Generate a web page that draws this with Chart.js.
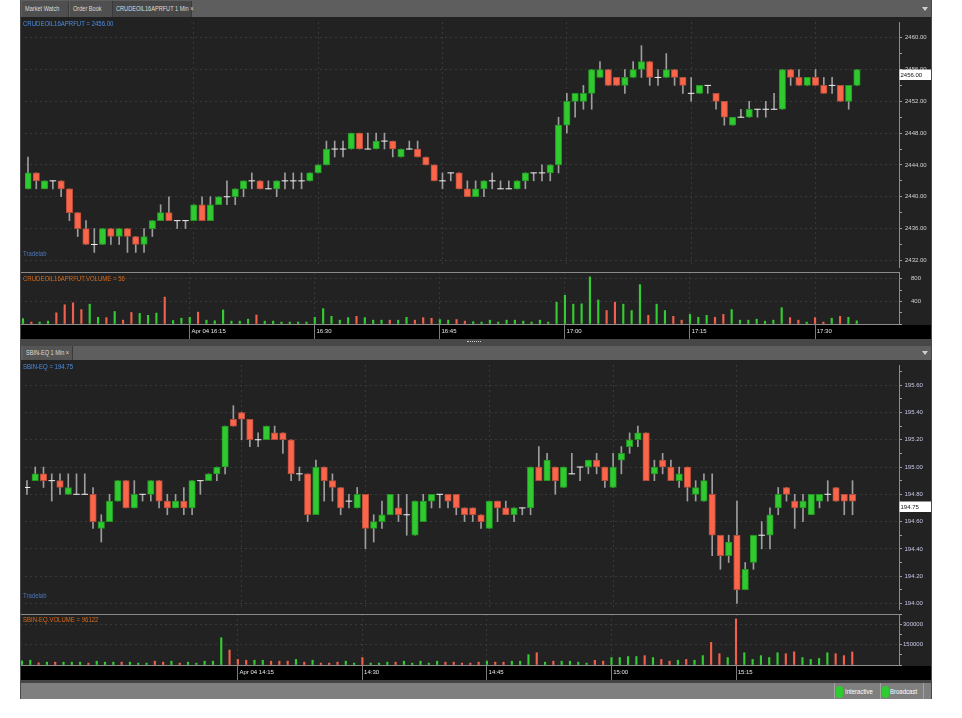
<!DOCTYPE html>
<html>
<head>
<meta charset="utf-8">
<script src="https://cdn.jsdelivr.net/npm/chart.js@4.4.1/dist/chart.umd.min.js"></script>
<style>
  body { margin:0; background:#fff; width:962px; height:718px; position:relative; overflow:hidden;
         font-family:"Liberation Sans",Arial,sans-serif; }
  .box { position:absolute; }
  .txt { position:absolute; font-size:7px; line-height:8px; white-space:nowrap; transform:scaleX(0.86); transform-origin:0 0; }
  .tab { position:absolute; top:1px; height:16px; line-height:16px; color:#dcdcdc;
         background:#4f4f4f; border-right:1px solid #3a3a3a; box-sizing:border-box; }
  .tab span { position:absolute; left:3px; top:0; font-size:7px; white-space:nowrap; transform:scaleX(0.8); transform-origin:0 0; }
  canvas { position:absolute; }
  .arrow { position:absolute; width:0; height:0; border-left:3px solid transparent; border-right:3px solid transparent; border-top:4px solid #cfcfcf; }
  .led { position:absolute; top:686px; width:7px; height:12px; border-radius:3px; background:#2ecc2e; }
</style>
</head>
<body>
<!-- frame -->
<div class="box" style="left:20px;top:0;width:912px;height:17px;background:#5e5e5e"></div>
<div class="tab" style="left:22px;width:47px"><span>Market Watch</span></div>
<div class="tab" style="left:70px;width:43px"><span>Order Book</span></div>
<div class="tab" style="left:113px;width:79px;background:#474747"><span>CRUDEOIL16APRFUT 1 Min ×</span></div>
<div class="arrow" style="left:922px;top:7px"></div>

<div class="box" style="left:20px;top:17px;width:912px;height:308px;background:#222"></div>
<div class="box" style="left:20px;top:325px;width:912px;height:14px;background:#000"></div>
<div class="box" style="left:20px;top:339px;width:912px;height:7px;background:#474747"></div>
<div class="box" style="left:467px;top:341px;width:14px;height:0;border-top:1px dotted #cfcfcf"></div>

<div class="box" style="left:20px;top:346px;width:912px;height:14px;background:#5e5e5e"></div>
<div class="tab" style="left:23px;top:346px;height:14px;line-height:14px;width:50px;background:#555"><span>SBIN-EQ 1 Min ×</span></div>
<div class="arrow" style="left:922px;top:351px"></div>

<div class="box" style="left:20px;top:360px;width:912px;height:306px;background:#222"></div>
<div class="box" style="left:20px;top:666px;width:912px;height:14px;background:#000"></div>
<div class="box" style="left:20px;top:680px;width:912px;height:3px;background:#444"></div>
<div class="box" style="left:20px;top:683px;width:912px;height:16px;background:#7f7f7f"></div>
<div class="box" style="left:834px;top:683px;width:1px;height:16px;background:#a5a5a5"></div>
<div class="box" style="left:880px;top:683px;width:1px;height:16px;background:#a5a5a5"></div>
<div class="box" style="left:923px;top:683px;width:1px;height:16px;background:#a5a5a5"></div>
<div class="led" style="left:836px"></div>
<div class="txt" style="left:845px;top:688px;color:#fff">Interactive</div>
<div class="led" style="left:882px"></div>
<div class="txt" style="left:890px;top:688px;color:#fff">Broadcast</div>

<canvas id="topPrice" width="912" height="255" style="left:20px;top:17px"></canvas>
<canvas id="topVol" width="912" height="68" style="left:20px;top:272px"></canvas>
<canvas id="botPrice" width="912" height="254" style="left:20px;top:360px"></canvas>
<canvas id="botVol" width="912" height="67" style="left:20px;top:614px"></canvas>

<div class="box" style="left:20px;top:272px;width:879px;height:1px;background:#8a8a8a"></div>
<div class="box" style="left:20px;top:614px;width:879px;height:1px;background:#8a8a8a"></div>
<div class="box" style="left:20px;top:0;width:1px;height:699px;background:#4a4a4a"></div>
<div class="box" style="left:931px;top:0;width:1px;height:699px;background:#4a4a4a"></div>

<div class="txt" id="topLegend" style="left:23px;top:20px;color:#4c8de2"></div>
<div class="txt" style="left:23px;top:250px;color:#4d76b8">Tradelab</div>
<div class="txt" id="topVolLegend" style="left:23px;top:275px;color:#d86b1c"></div>
<div class="txt" id="botLegend" style="left:23px;top:363px;color:#4c8de2"></div>
<div class="txt" style="left:23px;top:592px;color:#4d76b8">Tradelab</div>
<div class="txt" id="botVolLegend" style="left:23px;top:616px;color:#d86b1c"></div>

<script>
// ---- data: CRUDEOIL16APRFUT, 1 min ----
const topSymbol = 'CRUDEOIL16APRFUT';
const topFirstBar = '15:55';
const topTimeLabels = ['Apr 04 16:15', '16:30', '16:45', '17:00', '17:15', '17:30'];
const topOpen = [2441,2443,2441,2442,2442,2441,2438,2436,2434,2434, 2436,2435,2436,2435,2434,2436,2437,2438,2437,2437,
  2437,2439,2437,2439,2440,2440,2441,2442,2442,2441, 2441,2442,2442,2442,2442,2443,2444,2446,2446,2446,
  2448,2446,2446,2447,2447,2445,2446,2446,2445,2444, 2442,2443,2443,2441,2440,2441,2442,2441,2441,2441,
  2442,2443,2443,2443,2444,2449,2452,2452,2453,2455, 2456,2455,2454,2455,2456,2457,2455,2455,2456,2455,
  2453,2453,2454,2453,2452,2449,2450,2450,2451,2451, 2451,2451,2456,2455,2454,2455,2454,2454,2454,2452, 2454];
const topHigh = [2445,2443,2442,2442,2442,2441,2438,2437,2436,2436, 2436,2436,2436,2435,2436,2437,2439,2440,2437,2437,
  2439,2440,2440,2440,2442,2441,2442,2443,2442,2442, 2442,2443,2443,2443,2443,2444,2447,2447,2447,2448,
  2448,2448,2448,2448,2447,2446,2447,2447,2445,2444, 2443,2443,2443,2442,2442,2442,2443,2442,2442,2442,
  2443,2443,2444,2444,2450,2453,2453,2454,2456,2457, 2456,2455,2456,2457,2459,2457,2456,2458,2456,2455,
  2455,2454,2454,2453,2452,2450,2451,2452,2451,2452, 2453,2456,2456,2456,2455,2456,2455,2455,2454,2454, 2456];
const topLow = [2441,2441,2441,2441,2440,2437,2435,2434,2433,2434, 2434,2434,2433,2433,2433,2435,2437,2437,2436,2436,
  2437,2437,2437,2439,2439,2439,2440,2441,2441,2441, 2440,2441,2441,2441,2442,2443,2444,2445,2445,2446,
  2446,2446,2446,2446,2445,2445,2446,2445,2444,2442, 2441,2442,2441,2440,2440,2440,2441,2441,2441,2441,
  2441,2442,2442,2442,2443,2448,2450,2451,2451,2455, 2454,2454,2453,2455,2455,2454,2454,2455,2454,2453,
  2452,2453,2453,2451,2449,2449,2450,2450,2450,2450, 2451,2451,2454,2454,2454,2454,2453,2453,2452,2451, 2454];
const topClose = [2443,2442,2442,2442,2441,2438,2436,2434,2434,2436, 2435,2436,2435,2434,2435,2437,2438,2437,2437,2437,
  2439,2437,2439,2440,2440,2441,2442,2442,2441,2441, 2442,2442,2442,2442,2443,2444,2446,2446,2446,2448,
  2446,2446,2447,2447,2446,2446,2446,2445,2444,2442, 2442,2443,2441,2440,2441,2442,2442,2441,2441,2442,
  2443,2443,2443,2444,2449,2452,2453,2453,2456,2456, 2454,2454,2455,2456,2457,2455,2455,2456,2455,2454,
  2453,2454,2454,2452,2450,2450,2450,2451,2451,2451, 2451,2456,2455,2454,2455,2454,2453,2454,2452,2454, 2456];
const topVolume = [95,34,34,51,198,340,374,255,351,119, 113,221,68,204,187,153,193,476,62,102,
  119,210,68,57,249,51,51,85,159,51, 51,34,34,34,34,119,272,136,68,113,
  136,113,68,68,68,68,119,68,113,102, 79,68,79,51,40,34,68,34,68,68,
  51,34,68,34,385,510,351,357,833,425, 238,385,351,238,697,153,351,238,136,68,
  170,119,153,119,170,255,68,68,85,51, 68,289,113,68,34,113,34,102,136,119, 56];

// ---- data: SBIN-EQ, 1 min ----
const botSymbol = 'SBIN-EQ';
const botFirstBar = '13:49';
const botTimeLabels = ['Apr 04 14:15', '14:30', '14:45', '15:00', '15:15'];
const botOpen = [194.85,194.90,194.95,194.90,194.90,194.80,194.80,194.80,194.80,194.55, 194.60,194.75,194.90,194.70,194.80,194.80,194.90,194.75,194.70,194.75,
  194.70,194.90,194.90,194.95,195.00,195.35,195.40,195.35,195.20,195.20, 195.25,195.25,195.20,194.95,194.95,194.65,195.00,194.90,194.85,194.75,
  194.70,194.80,194.55,194.60,194.65,194.70,194.65,194.50,194.60,194.75, 194.80,194.80,194.80,194.70,194.70,194.65,194.55,194.75,194.70,194.65,
  194.70,194.70,195.00,194.90,195.00,194.85,194.95,195.00,195.00,195.05, 195.00,194.85,195.05,195.15,195.20,195.25,194.95,195.05,195.00,194.90,
  195.00,194.80,194.75,194.80,194.50,194.35,194.50,194.10,194.30,194.50, 194.50,194.70,194.85,194.75,194.70,194.65,194.75,194.80,194.85,194.80, 194.80];
const botHigh = [194.90,195.00,195.00,194.95,194.95,194.95,194.95,194.95,194.85,194.65, 194.80,194.90,194.90,194.90,194.80,194.90,194.90,194.80,194.80,194.85,
  194.90,194.90,194.95,195.00,195.30,195.45,195.40,195.35,195.25,195.30, 195.30,195.25,195.20,195.00,194.95,195.05,195.00,194.95,194.85,194.80,
  194.85,194.80,194.65,194.75,194.80,194.80,194.80,194.75,194.80,194.80, 194.80,194.80,194.80,194.70,194.70,194.65,194.75,194.75,194.75,194.70,
  194.70,195.00,195.15,195.10,195.00,195.00,195.10,195.00,195.05,195.10, 195.00,195.10,195.15,195.25,195.30,195.25,195.05,195.10,195.05,195.00,
  195.00,194.90,194.95,194.95,194.50,194.50,194.75,194.30,194.50,194.60, 194.70,194.85,194.85,194.80,194.80,194.80,194.80,194.90,194.85,194.80, 194.90];
const botLow = [194.80,194.90,194.85,194.75,194.80,194.80,194.80,194.80,194.55,194.45, 194.60,194.75,194.70,194.70,194.75,194.75,194.70,194.65,194.70,194.65,
  194.65,194.80,194.90,194.90,194.95,195.30,195.20,195.15,195.15,195.20, 195.20,195.10,194.90,194.90,194.60,194.65,194.75,194.75,194.65,194.70,
  194.70,194.40,194.45,194.55,194.65,194.60,194.50,194.50,194.60,194.70, 194.70,194.70,194.65,194.60,194.60,194.55,194.55,194.60,194.65,194.60,
  194.65,194.65,194.90,194.90,194.80,194.85,194.95,194.90,194.95,194.95, 194.85,194.85,194.95,195.10,195.15,194.90,194.90,194.95,194.90,194.85,
  194.75,194.75,194.75,194.35,194.25,194.30,194.00,194.10,194.25,194.40, 194.40,194.65,194.75,194.55,194.60,194.65,194.70,194.75,194.75,194.65, 194.65];
const botClose = [194.85,194.95,194.90,194.90,194.85,194.85,194.80,194.80,194.60,194.60, 194.75,194.90,194.70,194.80,194.80,194.90,194.75,194.70,194.75,194.70,
  194.90,194.90,194.95,195.00,195.30,195.30,195.35,195.20,195.20,195.30, 195.20,195.20,194.95,194.95,194.65,195.00,194.90,194.85,194.70,194.75,
  194.80,194.55,194.60,194.65,194.80,194.65,194.65,194.75,194.75,194.80, 194.80,194.75,194.70,194.65,194.65,194.60,194.75,194.70,194.65,194.70,
  194.70,195.00,194.90,195.05,194.90,195.00,194.95,195.00,195.05,195.00, 194.90,195.00,195.10,195.20,195.25,194.90,195.00,195.00,194.90,194.95,
  194.85,194.85,194.90,194.50,194.35,194.45,194.10,194.25,194.50,194.50, 194.65,194.80,194.80,194.70,194.75,194.80,194.80,194.80,194.75,194.75, 194.75];
const botVolume = [30000,35000,16000,21000,21000,21000,21000,21000,14000,28000, 21000,21000,21000,21000,14000,14000,28000,21000,28000,14000,
  21000,14000,28000,28000,200000,110000,41000,35000,35000,35000, 28000,28000,28000,41000,21000,35000,14000,14000,21000,28000,
  14000,55000,14000,14000,21000,21000,28000,14000,28000,14000, 28000,21000,21000,14000,14000,21000,28000,21000,21000,28000,
  28000,76000,90000,21000,28000,28000,28000,21000,14000,35000, 28000,55000,55000,62000,62000,69000,55000,41000,28000,35000,
  41000,35000,69000,166000,83000,55000,339000,90000,41000,69000, 55000,90000,83000,97000,55000,41000,48000,90000,83000,69000, 96122];

// ---- styling ----
const FONT = '"Liberation Sans", Arial, sans-serif';
const UP = '#30ca30', UP_EDGE = '#229522', DOWN = '#fb664b', DOWN_EDGE = '#b44c3a';
const WICK = '#9d9d9d', DOJI = '#f2f2f2', GRID = '#393939', AXIS = '#8c8c8c';

Chart.defaults.font.family = FONT;
Chart.defaults.font.size = 6;

function barIndex(label, start) {
  const [h, m] = label.slice(-5).split(':').map(Number);
  const [sh, sm] = start.split(':').map(Number);
  return (h * 60 + m) - (sh * 60 + sm);
}

function candleSets(o, h, l, c) {
  const ids = o.map((_, i) => i);
  const body = ids.filter(i => o[i] !== c[i]);
  const doji = ids.filter(i => o[i] === c[i]);
  return [
    { type: 'bar', order: 3, grouped: false, barThickness: 1, backgroundColor: WICK,
      data: ids.map(i => ({ x: i, y: [l[i], h[i]] })) },
    { type: 'bar', order: 2, grouped: false, barThickness: 6.5, borderWidth: 1, borderSkipped: false,
      backgroundColor: body.map(i => c[i] > o[i] ? UP : DOWN),
      borderColor: body.map(i => c[i] > o[i] ? UP_EDGE : DOWN_EDGE),
      data: body.map(i => ({ x: i, y: [o[i], c[i]] })) },
    { type: 'line', order: 1, showLine: false, pointStyle: 'line', pointRadius: 3.3,
      pointBorderColor: DOJI, pointBorderWidth: 1, borderColor: DOJI,
      data: doji.map(i => ({ x: i, y: o[i] })) }
  ];
}

const lastPriceTag = {
  id: 'lastPriceTag',
  afterDraw(chart, args, opts) {
    const ctx = chart.ctx;
    const y = Math.round(chart.scales.y.getPixelForValue(opts.value)) + 0.5;
    const x0 = chart.chartArea.right;
    ctx.save();
    ctx.fillStyle = '#fff';
    ctx.fillRect(x0 + 0.5, y, chart.width - x0 - 1.5, 10.5);
    ctx.fillStyle = '#111';
    ctx.font = '6px ' + FONT;
    ctx.textBaseline = 'middle';
    ctx.fillText(opts.text, x0 + 1.5, y + 5.5);
    ctx.restore();
  }
};

function noPad(s) { s.paddingTop = 0; s.paddingBottom = 0; s.paddingLeft = 0; s.paddingRight = 0; }

function xAxis(xr, tickIdx, labels) {
  const ax = {
    type: 'linear', min: xr[0], max: xr[1], offset: false,
    afterBuildTicks: s => { s.ticks = tickIdx.map(v => ({ value: v })); },
    grid: { color: GRID, drawTicks: false, offset: false },
    border: { display: false, dash: [2, 3] },
    ticks: { display: false }
  };
  if (labels) {
    ax.afterFit = s => { s.height = 16; noPad(s); };
    ax.grid = { color: GRID, offset: false, drawTicks: true, tickLength: 15, tickColor: '#7c7c7c' };
    ax.border = { display: true, color: AXIS, dash: [2, 3] };
    ax.ticks = { display: true, autoSkip: false, maxRotation: 0, minRotation: 0, align: 'start',
      padding: -11, color: '#e6e6e6', font: { size: 6 },
      callback: v => ' ' + (labels[tickIdx.indexOf(v)] || '') };
  }
  return ax;
}

function yAxis(yr, step, isMajor, fmt, pad, color) {
  return {
    position: 'right', min: yr[0], max: yr[1],
    afterFit: s => { s.width = 33; noPad(s); },
    ticks: { stepSize: step, includeBounds: false, crossAlign: 'center', padding: pad, color: color,
      font: { size: 6 }, callback: v => isMajor(v) ? fmt(v) : '' },
    grid: { color: c => (c.tick && isMajor(c.tick.value)) ? GRID : 'transparent',
      tickColor: '#a0a0a0', tickLength: 3 },
    border: { color: AXIS, dash: [2, 3] }
  };
}

const baseOpts = {
  responsive: false, animation: false, events: [],
  layout: { padding: 0 },
  plugins: { legend: { display: false }, tooltip: { enabled: false } }
};

function priceChart(id, o, h, l, c, xr, tickIdx, yr, step, isMajor, fmt, pad, color) {
  const last = c[c.length - 1];
  new Chart(document.getElementById(id), {
    type: 'bar',
    data: { datasets: candleSets(o, h, l, c) },
    options: Object.assign({}, baseOpts, {
      plugins: Object.assign({}, baseOpts.plugins, { lastPriceTag: { value: last, text: fmt(last) } }),
      scales: { x: xAxis(xr, tickIdx), y: yAxis(yr, step, isMajor, fmt, pad, color) }
    }),
    plugins: [lastPriceTag]
  });
}

function volumeChart(id, o, c, vol, xr, tickIdx, labels, yr, step, isMajor, pad, color) {
  new Chart(document.getElementById(id), {
    type: 'bar',
    data: { datasets: [{
      grouped: false, barThickness: 1.5,
      backgroundColor: vol.map((_, i) => c[i] >= o[i] ? '#33cc33' : '#f0604a'),
      data: vol.map((v, i) => ({ x: i, y: v }))
    }] },
    options: Object.assign({}, baseOpts, {
      scales: { x: xAxis(xr, tickIdx, labels), y: yAxis(yr, step, isMajor, v => String(v), pad, color) }
    })
  });
}

// ---- top panel ----
const topTicks = topTimeLabels.map(t => barIndex(t, topFirstBar));
const topMajor = v => Math.round(v) % 4 === 0;
priceChart('topPrice', topOpen, topHigh, topLow, topClose, [-0.36, 105.07], topTicks,
  [2431.17, 2461.97], 2, topMajor, v => v.toFixed(2), 3, '#d2d2d2');
volumeChart('topVol', topOpen, topClose, topVolume, [-0.36, 105.07], topTicks, topTimeLabels,
  [0, 920], 200, v => v > 0 && Math.round(v) % 400 === 0, 9, '#d2d2d2');

// ---- bottom panel ----
const botTicks = botTimeLabels.map(t => barIndex(t, botFirstBar));
const botMajor = v => Math.round(v * 10) % 2 === 0;
priceChart('botPrice', botOpen, botHigh, botLow, botClose, [-0.24, 105.63], botTicks,
  [193.959, 195.748], 0.1, botMajor, v => v.toFixed(2), 2.5, '#c6cae6');
volumeChart('botVol', botOpen, botClose, botVolume, [-0.24, 105.63], botTicks, botTimeLabels,
  [0, 375000], 75000, v => v > 0 && Math.round(v) % 150000 === 0, 1, '#c6cae6');

document.getElementById('topLegend').textContent = topSymbol + ' = ' + topClose[topClose.length - 1].toFixed(2);
document.getElementById('topVolLegend').textContent = topSymbol + '.VOLUME = ' + topVolume[topVolume.length - 1];
document.getElementById('botLegend').textContent = botSymbol + ' = ' + botClose[botClose.length - 1].toFixed(2);
document.getElementById('botVolLegend').textContent = botSymbol + '.VOLUME = ' + botVolume[botVolume.length - 1];
</script>
</body>
</html>
